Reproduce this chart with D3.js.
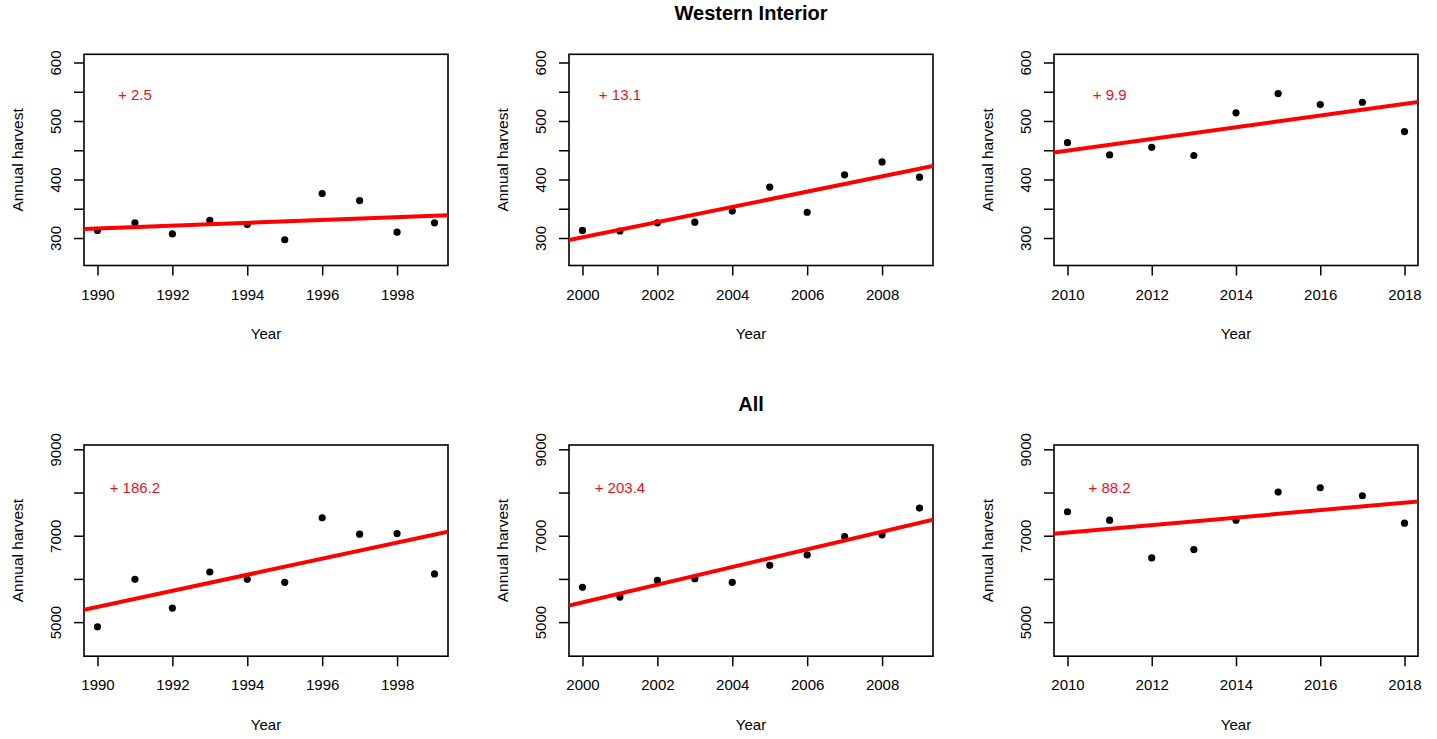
<!DOCTYPE html>
<html>
<head>
<meta charset="utf-8">
<script src="https://cdn.jsdelivr.net/npm/d3@7"></script>
<style>
  body { margin: 0; background: #fff; }
  svg { display: block; font-family: "Liberation Sans", Arial, sans-serif; }
</style>
</head>
<body>
<div id="chart"></div>
<script>
// years per decade panel
const years1990s = [1990, 1991, 1992, 1993, 1994, 1995, 1996, 1997, 1998, 1999];
const years2000s = [2000, 2001, 2002, 2003, 2004, 2005, 2006, 2007, 2008, 2009];
const years2010s = [2010, 2011, 2012, 2013, 2014, 2015, 2016, 2017, 2018];

// annual harvest, Western Interior
const wi1990s = [313, 326, 307, 330, 323, 297, 376, 364, 310, 326];
const wi2000s = [313, 312, 326, 327, 346, 387, 344, 408, 430, 404];
const wi2010s = [463, 442, 455, 441, 514, 547, 528, 532, 482];

// annual harvest, All
const all1990s = [4890, 5990, 5325, 6160, 5990, 5920, 7415, 7035, 7050, 6115];
const all2000s = [5805, 5580, 5965, 6005, 5920, 6315, 6555, 6980, 7020, 7640];
const all2010s = [7555, 7360, 6485, 6680, 7360, 8010, 8110, 7925, 7290];

// slope labels printed in each panel
const slopeLabels = ["+ 2.5", "+ 13.1", "+ 9.9", "+ 186.2", "+ 203.4", "+ 88.2"];
const rowTitles = ["Western Interior", "All"];

const xTicks1990s = [1990, 1992, 1994, 1996, 1998];
const xTicks2000s = [2000, 2002, 2004, 2006, 2008];
const xTicks2010s = [2010, 2012, 2014, 2016, 2018];

const topYTicks = [300, 350, 400, 450, 500, 550, 600];
const topYLabels = [300, 400, 500, 600];
const bottomYTicks = [5000, 6000, 7000, 8000, 9000];
const bottomYLabels = [5000, 7000, 9000];

const width = 1437;
const height = 739;

const svg = d3
  .select("#chart")
  .append("svg")
  .attr("width", width)
  .attr("height", height);

// plot box geometry
const colLeft = [84, 569, 1054];
const boxW = 364;
const rowTop = [54.3, 445];
const boxH = 211.2;

const rows = [
  {
    title: rowTitles[0],
    series: [wi1990s, wi2000s, wi2010s],
    yDomain: [253, 614],
    yTicks: topYTicks,
    yLabels: topYLabels,
    labelY: 545,
  },
  {
    title: rowTitles[1],
    series: [all1990s, all2000s, all2010s],
    yDomain: [4211, 9100],
    yTicks: bottomYTicks,
    yLabels: bottomYLabels,
    labelY: 8100,
  },
];
const yearSets = [years1990s, years2000s, years2010s];
const xTickSets = [xTicks1990s, xTicks2000s, xTicks2010s];

// least squares fit
function fit(xs, ys) {
  const mx = d3.mean(xs);
  const my = d3.mean(ys);
  const sxy = d3.sum(xs, (x, i) => (x - mx) * (ys[i] - my));
  const sxx = d3.sum(xs, (x) => (x - mx) ** 2);
  const b = sxy / sxx;
  return (x) => my + b * (x - mx);
}

// row titles
svg
  .selectAll(".row-title")
  .data(rows)
  .join("text")
  .attr("x", 751)
  .attr("y", (d, i) => (i === 0 ? 20 : 411))
  .attr("text-anchor", "middle")
  .attr("font-size", 20)
  .attr("font-weight", "bold")
  .text((d) => d.title);

rows.forEach((row, r) => {
  row.series.forEach((values, c) => {
    const years = yearSets[c];
    const left = colLeft[c];
    const top = rowTop[r];
    const span = years[years.length - 1] - years[0];

    const x = d3
      .scaleLinear()
      .domain([years[0] - 0.04 * span, years[years.length - 1] + 0.04 * span])
      .range([left, left + boxW]);
    const y = d3.scaleLinear().domain(row.yDomain).range([top + boxH, top]);

    const g = svg.append("g");
    const clipId = `clip-${r}-${c}`;
    g.append("clipPath")
      .attr("id", clipId)
      .append("rect")
      .attr("x", left)
      .attr("y", top)
      .attr("width", boxW)
      .attr("height", boxH);

    // y axis
    const yAxis = g
      .append("g")
      .attr("transform", `translate(${left},0)`)
      .call(
        d3
          .axisLeft(y)
          .tickValues(row.yTicks)
          .tickSize(10)
          .tickFormat((d) => (row.yLabels.includes(d) ? d : "")),
      );
    yAxis.select(".domain").remove();
    yAxis.selectAll("line").attr("stroke", "#000").attr("stroke-width", 1.5);
    yAxis
      .selectAll("text")
      .attr("x", 0)
      .attr("dy", 0)
      .attr("text-anchor", "middle")
      .attr("transform", "translate(-23.5,0) rotate(-90)")
      .attr("font-size", 15)
      .attr("font-family", null)
      .attr("fill", "#000");

    // x axis
    const xAxis = g
      .append("g")
      .attr("transform", `translate(0,${top + boxH})`)
      .call(d3.axisBottom(x).tickValues(xTickSets[c]).tickSize(10).tickFormat(d3.format("d")));
    xAxis.select(".domain").remove();
    xAxis.selectAll("line").attr("stroke", "#000").attr("stroke-width", 1.5);
    xAxis
      .selectAll("text")
      .attr("y", 34)
      .attr("dy", 0)
      .attr("font-size", 15)
      .attr("font-family", null)
      .attr("fill", "#000");

    // box
    g.append("rect")
      .attr("x", left)
      .attr("y", top)
      .attr("width", boxW)
      .attr("height", boxH)
      .attr("fill", "none")
      .attr("stroke", "#000")
      .attr("stroke-width", 1.6);

    // axis titles
    g.append("text")
      .attr("x", left + boxW / 2)
      .attr("y", top + boxH + 73.5)
      .attr("text-anchor", "middle")
      .attr("font-size", 15)
      .text("Year");
    g.append("text")
      .attr("transform", `translate(${left - 61.5},${top + boxH / 2}) rotate(-90)`)
      .attr("text-anchor", "middle")
      .attr("font-size", 15.5)
      .text("Annual harvest");

    // points
    g.selectAll("circle")
      .data(values)
      .join("circle")
      .attr("cx", (d, i) => x(years[i]))
      .attr("cy", (d) => y(d))
      .attr("r", 3.6)
      .attr("fill", "#000");

    // trend line
    const trend = fit(years, values);
    const [x0, x1] = x.domain();
    g.append("line")
      .attr("clip-path", `url(#${clipId})`)
      .attr("x1", x(x0))
      .attr("y1", y(trend(x0)))
      .attr("x2", x(x1))
      .attr("y2", y(trend(x1)))
      .attr("stroke", "#f00")
      .attr("stroke-width", 4);

    // slope label
    g.append("text")
      .attr("x", x(years[0] + 1))
      .attr("y", y(row.labelY))
      .attr("dy", "0.35em")
      .attr("text-anchor", "middle")
      .attr("font-size", 15)
      .attr("fill", "#e0141e")
      .text(slopeLabels[r * 3 + c]);
  });
});
</script>
</body>
</html>
